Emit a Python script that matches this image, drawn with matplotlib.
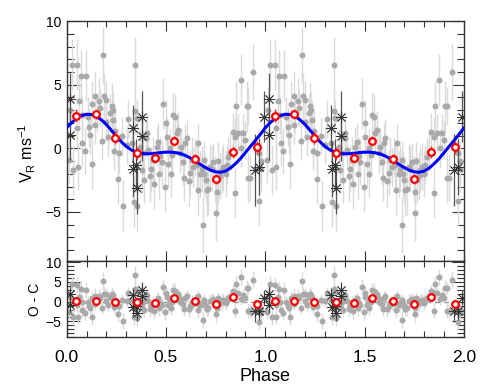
import numpy as np
import matplotlib
matplotlib.use('Agg')
import matplotlib.pyplot as plt
from matplotlib.ticker import MultipleLocator

plt.rcParams['font.family'] = ['Liberation Sans', 'DejaVu Sans']

# ---------------- data (one phase cycle; plotted twice) ----------------
gray_phase = [0.025, 0.050, 0.070, 0.095, 0.062, 0.034, 0.055, 0.054, 0.077, 0.075,
              0.106, 0.114, 0.120, 0.126, 0.143, 0.151, 0.143, 0.164, 0.168, 0.185,
              0.188, 0.198, 0.200, 0.218, 0.226, 0.210, 0.232, 0.235, 0.243, 0.258,
              0.262, 0.285, 0.302, 0.329, 0.344, 0.344, 0.352, 0.356, 0.337, 0.369,
              0.378, 0.386, 0.403, 0.411, 0.419, 0.436, 0.453, 0.466, 0.478, 0.487,
              0.495, 0.503, 0.512, 0.523, 0.537, 0.545, 0.554, 0.562, 0.570, 0.578,
              0.596, 0.604, 0.614, 0.629, 0.646, 0.654, 0.663, 0.671, 0.680, 0.688,
              0.691, 0.705, 0.713, 0.721, 0.730, 0.738, 0.747, 0.752, 0.755, 0.763,
              0.772, 0.780, 0.789, 0.805, 0.814, 0.822, 0.836, 0.847, 0.847, 0.852,
              0.864, 0.876, 0.889, 0.897, 0.906, 0.914, 0.880, 0.922, 0.937, 0.913,
              0.970, 0.970, 0.980, 0.980, 0.010, 0.015, 0.390, 0.425, 0.440, 0.460,
              0.470, 0.520, 0.530, 0.585, 0.590, 0.620, 0.635, 0.660, 0.690, 0.700,
              0.760, 0.800, 0.280, 0.310, 0.240, 0.180, 0.130, 0.090, 0.400, 0.500]
gray_rv = [6.56, 6.56, 5.7, 5.7, 3.7, -1.7, -1.45, 1.57, 0.4, 2.6,
           2.5, 1.7, 1.05, -1.2, 4.1, 2.75, 1.84, 3.7, 3.15, 7.35,
           4.1, 3.8, 2.1, 2.75, 3.3, 0.92, 3.0, 2.2, 1.4, -2.4,
           -0.4, -4.5, 0.25, 0.4, 6.56, 2.9, 2.35, -4.5, -4.2, 0.1,
           -1.7, -0.4, 1.2, -0.15, -2.2, -0.9, 0.1, -2.0, -1.05, 3.5,
           -3.0, 0.92, -1.2, -2.0, 2.6, 2.5, 1.2, 1.45, -0.4, 0.13,
           0.4, 0.8, -2.6, -0.9, -0.65, -1.3, 0.4, -2.0, -1.6, -6.0,
           -2.0, -3.3, -3.2, -1.45, -1.6, -1.1, -2.4, -5.1, -3.4, -2.5,
           -2.2, -1.7, -1.45, -1.3, -0.65, -0.26, 1.3, 0.92, -3.5, 3.3,
           1.2, 5.4, 1.2, 0.66, 3.3, -2.3, 0.0, -2.35, 6.0, 3.3,
           -4.1, -0.4, -1.6, -1.0, -0.9, 3.0, -2.5, -1.6, -2.8, 0.5,
           -0.6, 0.0, -0.5, -1.1, -2.3, -1.9, -1.5, -3.3, -0.9, -2.5,
           -1.0, -2.0, 1.0, 2.3, -0.2, 0.6, 3.5, -0.2, 0.8, 2.0]
gray_err = [2.0, 2.0, 2.0, 2.0, 1.8, 2.0, 1.8, 1.5, 1.8, 1.5,
            1.5, 1.5, 1.5, 2.0, 2.0, 1.5, 1.5, 1.8, 1.5, 2.2,
            1.8, 1.5, 1.5, 1.5, 1.8, 1.5, 1.5, 1.5, 1.5, 2.0,
            1.5, 2.0, 1.5, 1.5, 2.2, 1.8, 1.5, 2.0, 2.0, 1.5,
            1.8, 1.8, 1.5, 1.5, 2.0, 1.8, 1.5, 2.0, 1.8, 2.0,
            2.0, 1.5, 1.8, 1.8, 1.8, 1.8, 1.5, 1.5, 1.5, 1.5,
            1.5, 1.5, 2.0, 1.8, 1.5, 1.8, 1.5, 1.8, 1.8, 2.2,
            1.8, 2.0, 2.0, 1.8, 1.8, 1.5, 1.8, 2.2, 2.0, 1.8,
            1.8, 1.8, 1.8, 1.5, 1.5, 1.5, 1.5, 1.5, 2.0, 2.0,
            1.5, 2.0, 1.5, 1.5, 2.0, 2.0, 1.5, 1.8, 2.2, 1.5,
            2.0, 1.8, 1.8, 1.5, 1.8, 1.8, 1.8, 1.8, 2.0, 1.5,
            1.5, 1.5, 1.5, 1.8, 1.8, 1.8, 1.5, 2.0, 1.5, 1.8,
            1.5, 1.8, 1.5, 1.5, 1.5, 1.5, 1.8, 1.8, 1.5, 1.8]

star_phase = [0.017, 0.017, 0.332, 0.333, 0.350, 0.356, 0.379, 0.379, 0.948, 0.970, 0.992]
star_rv = [3.9, 1.05, 1.57, -1.6, -1.3, -3.15, 2.5, 0.97, -1.7, -1.45, 2.5]
star_err = [2.0, 2.0, 1.8, 2.2, 2.0, 2.0, 2.0, 2.0, 2.8, 2.2, 2.0]

bin_phase = [0.047, 0.146, 0.245, 0.356, 0.446, 0.539, 0.644, 0.750, 0.836, 0.956]
bin_rv = [2.57, 2.70, 0.84, -0.39, -0.76, 0.58, -0.81, -2.39, -0.29, 0.08]
bin_err = [0.5, 0.4, 0.5, 0.5, 0.4, 0.4, 0.4, 0.4, 0.5, 0.5]

model_phase = [0.000, 0.025, 0.050, 0.075, 0.100, 0.125, 0.150, 0.175, 0.200, 0.225,
               0.250, 0.275, 0.300, 0.325, 0.350, 0.375, 0.400, 0.425, 0.450, 0.475,
               0.500, 0.525, 0.550, 0.575, 0.600, 0.625, 0.650, 0.675, 0.700, 0.725,
               0.750, 0.775, 0.800, 0.825, 0.850, 0.875, 0.900, 0.925, 0.950, 0.975, 1.000]
model_rv = [1.62, 2.02, 2.35, 2.57, 2.68, 2.66, 2.51, 2.24, 1.87, 1.42,
            0.95, 0.52, 0.15, -0.12, -0.30, -0.40, -0.43, -0.42, -0.38, -0.33,
            -0.30, -0.30, -0.34, -0.43, -0.58, -0.78, -1.02, -1.28, -1.52, -1.72,
            -1.85, -1.88, -1.78, -1.55, -1.20, -0.80, -0.33, 0.15, 0.62, 1.10, 1.62]

# ---------------- figure ----------------
fig = plt.figure(figsize=(4.9, 3.9), dpi=100)
ax1 = fig.add_axes([0.136, 0.3315, 0.811, 0.6145])
ax2 = fig.add_axes([0.136, 0.135, 0.811, 0.1965], sharex=ax1)

gp = np.array(gray_phase); gv = np.array(gray_rv); ge = np.array(gray_err)
sp = np.array(star_phase); sv = np.array(star_rv); se = np.array(star_err)
bp = np.array(bin_phase); bv = np.array(bin_rv); be = np.array(bin_err)
mp = np.array(model_phase); mv = np.array(model_rv)

def model_at(ph):
    return np.interp(ph % 1.0, mp, mv)

g_res = gv - model_at(gp)
s_res = sv - model_at(sp)
b_res = bv - model_at(bp)

gray_pt = '#a9a9a9'
gray_eb = '#dadada'

for shift in (0.0, 1.0):
    for ax, gy, sy in ((ax1, gv, sv), (ax2, g_res, s_res)):
        ax.errorbar(gp + shift, gy, yerr=ge, fmt='o', color=gray_pt, ms=4.3,
                    mec='none', ecolor=gray_eb, elinewidth=1.0, capsize=0, zorder=2)
        ax.errorbar(sp + shift, sy, yerr=se, fmt='none', ecolor='#555555',
                    elinewidth=0.9, capsize=0, zorder=3)
        ax.plot(sp + shift, sy, linestyle='none', marker=(8, 2, 0), ms=8,
                mew=0.6, color='#333333', zorder=4)
    ax1.plot(mp + shift, mv, color='#0000ff', lw=2.2, zorder=5, solid_capstyle='round')

for shift in (0.0, 1.0):
    for ax, by in ((ax1, bv), (ax2, b_res)):
        ax.errorbar(bp + shift, by, yerr=be, fmt='none', ecolor='#ff3030',
                    elinewidth=1.0, capsize=0, zorder=6)
        ax.plot(bp + shift, by, linestyle='none', marker='o', ms=4.8, mew=1.6,
                mec='#ff0000', mfc='white', zorder=7)

ax2.axhline(0, color='#888888', lw=0.9, dashes=(4, 3), zorder=1)

ax1.set_xlim(0, 2)
ax1.set_ylim(-8.83, 10)
ax2.set_ylim(-9.05, 10.4)

for ax in (ax1, ax2):
    ax.xaxis.set_major_locator(MultipleLocator(0.5))
    ax.xaxis.set_minor_locator(MultipleLocator(0.1))
    ax.yaxis.set_major_locator(MultipleLocator(5))
    ax.yaxis.set_minor_locator(MultipleLocator(1))
    ax.tick_params(which='both', direction='in', top=True, right=True, width=0.8,
                   color='#333333')
    ax.tick_params(which='major', axis='y', length=9)
    ax.tick_params(which='minor', axis='y', length=5)
    ax.tick_params(which='major', axis='x', length=7)
    ax.tick_params(which='minor', axis='x', length=4)
    ax.tick_params(axis='y', labelsize=10, pad=4)
    for s in ax.spines.values():
        s.set_linewidth(1.0)
        s.set_color('#333333')

ax1.set_yticks([-5, 0, 5, 10])
ax2.set_yticks([-5, 0, 5, 10])
ax1.tick_params(axis='x', labelbottom=False)
ax2.tick_params(axis='x', labelsize=12.5, pad=9)
ax2.set_xticks([0, 0.5, 1.0, 1.5, 2.0])
ax2.set_xticklabels(['0.0', '0.5', '1.0', '1.5', '2.0'])

ax1.set_ylabel('V$_\\mathregular{R}$ ms$^\\mathregular{-1}$', fontsize=11.5)
ax2.set_ylabel('O - C', fontsize=10)
ax2.set_xlabel('Phase', fontsize=13, labelpad=2)
ax1.yaxis.set_label_coords(-0.072, 0.45)
ax2.yaxis.set_label_coords(-0.062, 0.5)

fig.savefig('out.png', dpi=100)
